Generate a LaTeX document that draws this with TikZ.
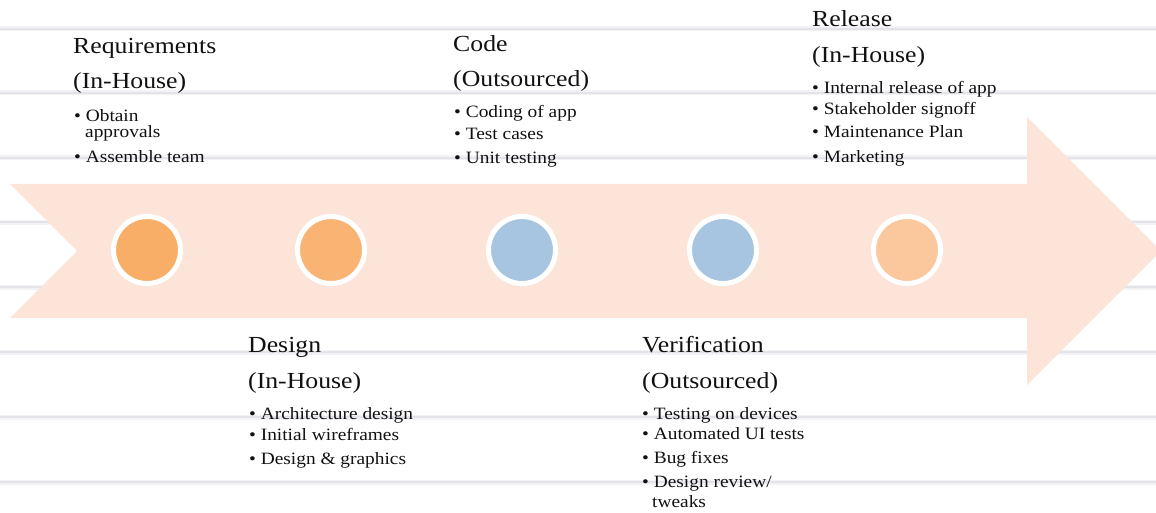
\documentclass[tikz,border=0pt]{standalone}
\usepackage{fontspec}
\setmainfont{Liberation Serif}[FakeStretch=1.12]
\definecolor{rulecol}{HTML}{DCDCE4}
\definecolor{arrowfill}{HTML}{FCE4D9}
\definecolor{dotA}{HTML}{F9AE68}
\definecolor{dotB}{HTML}{F9B474}
\definecolor{dotC}{HTML}{A7C4E0}
\definecolor{dotD}{HTML}{FBC79D}
\definecolor{inkcol}{HTML}{111111}
\tikzset{
  rulesoft/.style={draw=rulecol!35, line width=5pt},
  rulecore/.style={draw=rulecol!80, line width=1.4pt},
  dot/.style={circle, minimum size=67pt, inner sep=0pt, outer sep=0pt, draw=white, line width=5pt},
  ttl/.style={anchor=base west, inner sep=0pt, text=inkcol, font=\fontsize{23}{27}\selectfont},
  itm/.style={anchor=base west, inner sep=0pt, text=inkcol, font=\fontsize{17.3}{20}\selectfont}
}
\begin{document}
\begin{tikzpicture}[x=1pt,y=-1pt]
\useasboundingbox (0,0) rectangle (1156,513);
\fill[white] (0,0) rectangle (1156,513);

% ruled paper lines
\foreach \y in {29,93,158,222,287,352,417,482} {
  \draw[rulesoft] (0,\y) -- (1156,\y);
  \draw[rulecore] (0,\y) -- (1156,\y);
}

% timeline arrow with notched tail
\fill[arrowfill] (10,184) -- (1027,184) -- (1027,117) -- (1161,251)
  -- (1027,385) -- (1027,318) -- (10,318) -- (77,251) -- cycle;

% phase markers
\node[dot, fill=dotA] (c1) at (147,250) {};
\node[dot, fill=dotB] (c2) at (331,250) {};
\node[dot, fill=dotC] (c3) at (522,250) {};
\node[dot, fill=dotC] (c4) at (723,250) {};
\node[dot, fill=dotD] (c5) at (907,250) {};

% Requirements
\node[ttl] (reqT) at (73,54) {Requirements};
\node[ttl] (reqS) at (73,89) {(In-House)};
\node[itm] (req1) at (74,122) {\textbullet\ Obtain};
\node[itm] (req1b) at (85,138) {approvals};
\node[itm] (req2) at (74,163) {\textbullet\ Assemble team};

% Design
\node[ttl] (desT) at (248,352) {Design};
\node[ttl] (desS) at (248,388) {(In-House)};
\node[itm] (des1) at (249,419) {\textbullet\ Architecture design};
\node[itm] (des2) at (249,440) {\textbullet\ Initial wireframes};
\node[itm] (des3) at (249,464) {\textbullet\ Design \& graphics};

% Code
\node[ttl] (codT) at (453,52) {Code};
\node[ttl] (codS) at (453,87) {(Outsourced)};
\node[itm] (cod1) at (454,118) {\textbullet\ Coding of app};
\node[itm] (cod2) at (454,140) {\textbullet\ Test cases};
\node[itm] (cod3) at (454,164) {\textbullet\ Unit testing};

% Verification
\node[ttl] (verT) at (642,352) {Verification};
\node[ttl] (verS) at (642,388) {(Outsourced)};
\node[itm] (ver1) at (642,419) {\textbullet\ Testing on devices};
\node[itm] (ver2) at (642,439) {\textbullet\ Automated UI tests};
\node[itm] (ver3) at (642,463) {\textbullet\ Bug fixes};
\node[itm] (ver4) at (642,487) {\textbullet\ Design review/};
\node[itm] (ver4b) at (652,507) {tweaks};

% Release
\node[ttl] (relT) at (812,27) {Release};
\node[ttl] (relS) at (812,63) {(In-House)};
\node[itm] (rel1) at (812,94) {\textbullet\ Internal release of app};
\node[itm] (rel2) at (812,115) {\textbullet\ Stakeholder signoff};
\node[itm] (rel3) at (812,138) {\textbullet\ Maintenance Plan};
\node[itm] (rel4) at (812,163) {\textbullet\ Marketing};
\end{tikzpicture}
\end{document}
